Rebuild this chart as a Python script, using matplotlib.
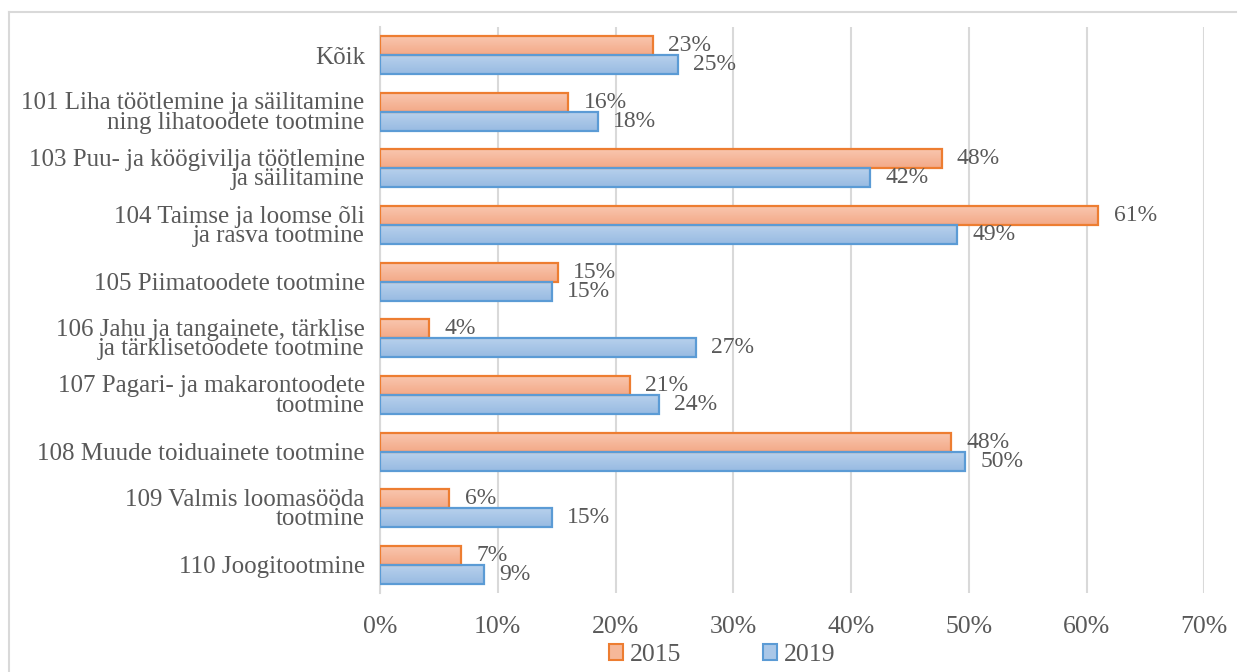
import numpy as np
import matplotlib
matplotlib.use('Agg')
import matplotlib.pyplot as plt
from matplotlib.lines import Line2D
from matplotlib.patches import Rectangle

# data
categories = ["Kõik",
              "101 Liha töötlemine ja säilitamine\nning lihatoodete tootmine",
              "103 Puu- ja köögivilja töötlemine\nja säilitamine",
              "104 Taimse ja loomse õli\nja rasva tootmine",
              "105 Piimatoodete tootmine",
              "106 Jahu ja tangainete, tärklise\nja tärklisetoodete tootmine",
              "107 Pagari- ja makarontoodete\ntootmine",
              "108 Muude toiduainete tootmine",
              "109 Valmis loomasööda\ntootmine",
              "110 Joogitootmine"]
v2015 = [23.2, 16.0, 47.7, 61.0, 15.1, 4.2, 21.2, 48.5, 5.9, 6.9]
v2019 = [25.3, 18.5, 41.6, 49.0, 14.6, 26.8, 23.7, 49.7, 14.6, 8.8]
xticks = [0, 10, 20, 30, 40, 50, 60, 70]

plt.rcParams['font.family'] = ['Liberation Serif', 'DejaVu Serif']
TXT = '#595959'
GRID = '#D9D9D9'
FS_CAT = 18
FS_TICK = 18.5
FS_LBL = 17

fig = plt.figure(figsize=(12.44, 6.72), dpi=100)
ax = fig.add_axes([380/1244, 1-593.3/672, (1204.3-380)/1244, (593.3-26.7)/672])

h = 0.335
y = np.arange(len(categories))

def grad_bar(x0, yc, w, c_top, c_bot, edge):
    grad = np.linspace(0, 1, 50).reshape(-1, 1, 1)
    ct = np.array(matplotlib.colors.to_rgb(c_top))
    cb = np.array(matplotlib.colors.to_rgb(c_bot))
    img = ct * (1 - grad) + cb * grad
    ax.imshow(img, extent=(x0, x0 + w, yc + h/2, yc - h/2), aspect='auto',
              zorder=2, interpolation='bilinear')
    ax.add_patch(Rectangle((x0, yc - h/2), w, h, fill=False, edgecolor=edge,
                           linewidth=1.6, zorder=3))

for i in range(len(categories)):
    grad_bar(0, y[i] - h/2, v2015[i], '#F9C6AE', '#F3A988', '#ED7D31')
    grad_bar(0, y[i] + h/2, v2019[i], '#B7D0EC', '#98BBE2', '#5B9BD5')
    ax.annotate(f"{v2015[i]:.0f}%", (v2015[i], y[i] - h/2), xytext=(11, 0),
                textcoords='offset points', va='center', ha='left',
                color=TXT, fontsize=FS_LBL)
    ax.annotate(f"{v2019[i]:.0f}%", (v2019[i], y[i] + h/2), xytext=(11, 0),
                textcoords='offset points', va='center', ha='left',
                color=TXT, fontsize=FS_LBL)

ax.set_xlim(0, 70)
ax.set_ylim(len(categories) - 0.5, -0.5)
ax.set_xticks(xticks)
ax.set_xticklabels([f"{t}%" for t in xticks], color=TXT, fontsize=FS_TICK)
ax.set_yticks(y)
ax.set_yticklabels(categories, color=TXT, fontsize=FS_CAT, linespacing=0.85)
ax.tick_params(length=0)
ax.tick_params(axis='x', pad=16)
ax.tick_params(axis='y', pad=11)
ax.grid(axis='x', color=GRID, linewidth=1.5, zorder=0)
ax.set_axisbelow(True)
for s in ['top', 'right', 'bottom']:
    ax.spines[s].set_visible(False)
ax.spines['left'].set_color(GRID)
ax.spines['left'].set_linewidth(1.5)

handles = [Rectangle((0, 0), 1, 1, facecolor='#F6B899', edgecolor='#ED7D31', linewidth=1.5),
           Rectangle((0, 0), 1, 1, facecolor='#A9C7E8', edgecolor='#5B9BD5', linewidth=1.5)]
fig.legend(handles, ['2015', '2019'], loc='center', bbox_to_anchor=(722/1244, 1-655/672),
           ncol=2, frameon=False, fontsize=FS_TICK, labelcolor=TXT, handlelength=0.55,
           handleheight=0.55, handletextpad=0.25, columnspacing=3.2, borderpad=0)

# outer chart border
fig.add_artist(Line2D([9/1244, 9/1244], [0, 1-12/672], color=GRID, linewidth=1.5))
fig.add_artist(Line2D([9/1244, 1236/1244], [1-12/672, 1-12/672], color=GRID, linewidth=1.5))

fig.savefig('out.png', dpi=100)
